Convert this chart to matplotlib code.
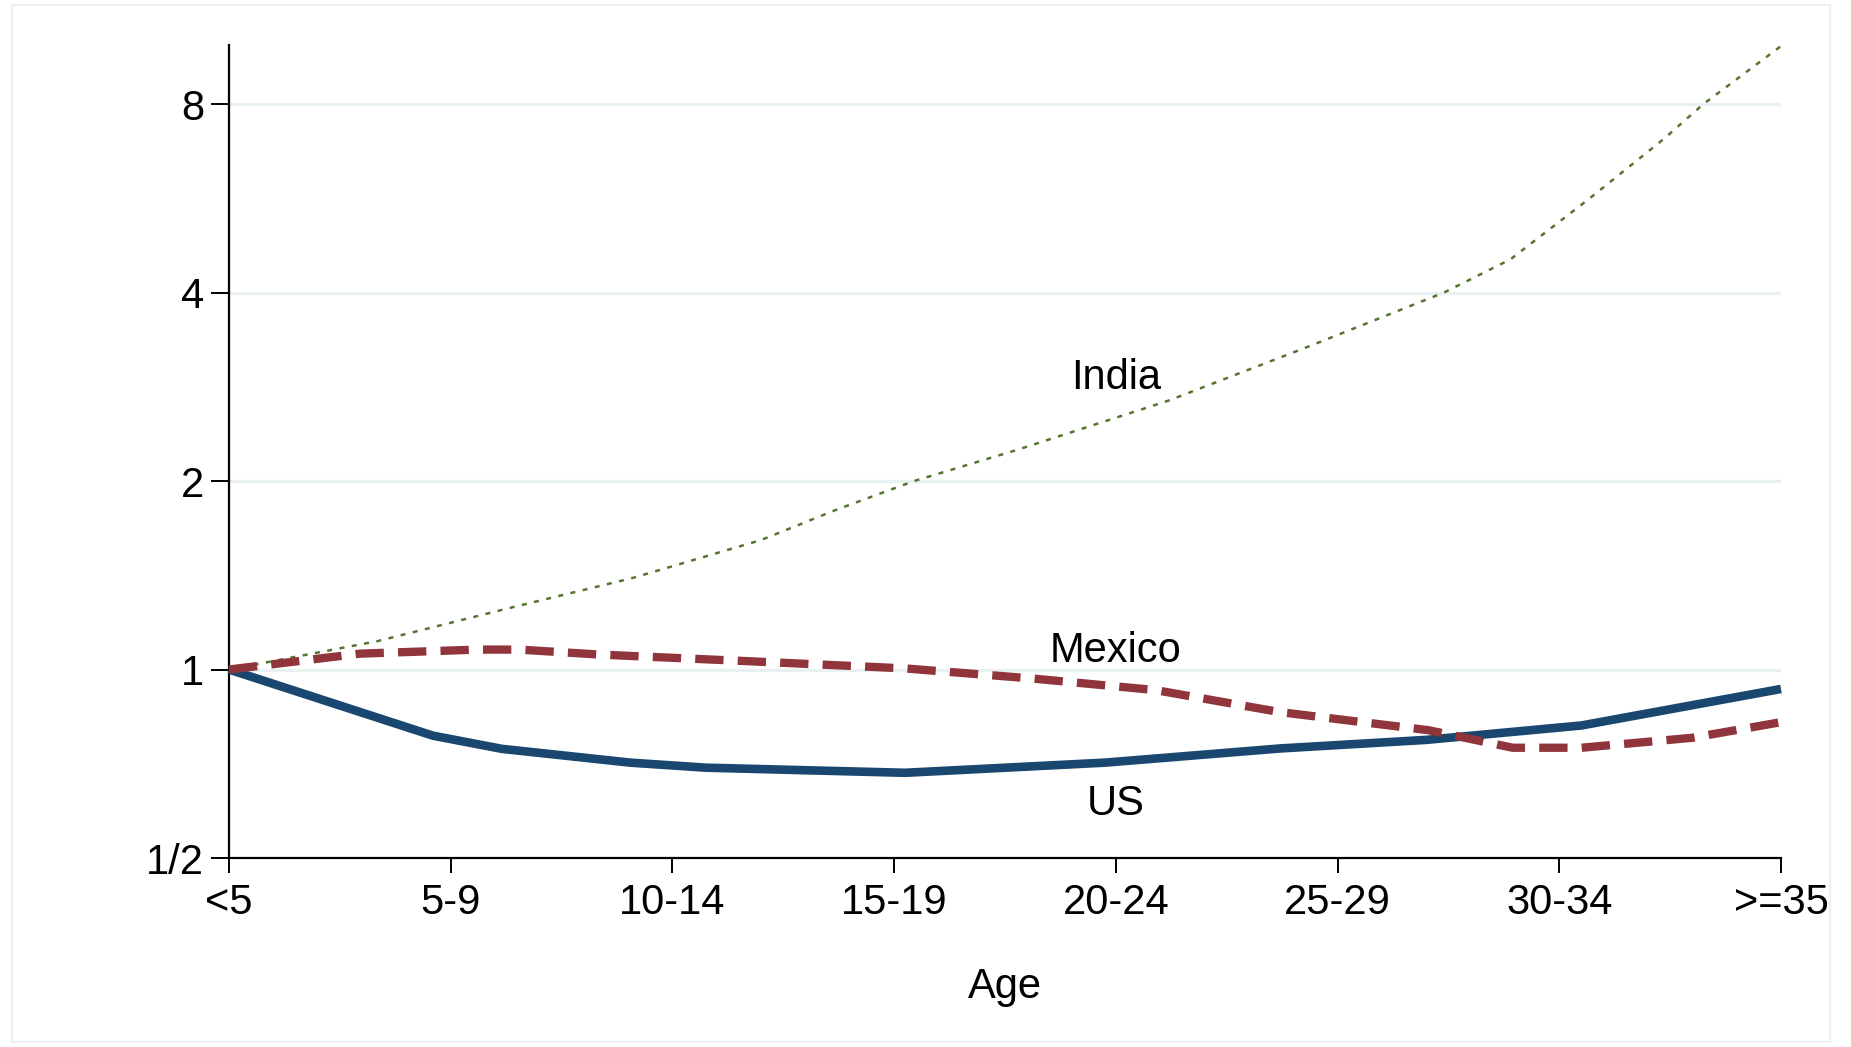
import matplotlib
matplotlib.use("Agg")
import matplotlib.pyplot as plt
from matplotlib.patches import Rectangle

# ---- data (x = position along the age-group axis, 0 = "<5", 7 = ">=35") ----
age_labels = ["<5", "5-9", "10-14", "15-19", "20-24", "25-29", "30-34", ">=35"]

us_x = [0, 0.92, 1.23, 1.81, 2.15, 3.05, 3.95, 4.74, 5.40, 6.10, 7.0]
us_y = [1.0, 0.784, 0.747, 0.710, 0.697, 0.684, 0.710, 0.748, 0.772, 0.814, 0.931]

mex_x = [0, 0.59, 1.12, 1.31, 1.66, 2.37, 3.05, 3.63, 4.18, 4.74, 5.41, 5.79, 6.10, 6.60, 7.0]
mex_y = [1.0, 1.06, 1.076, 1.076, 1.057, 1.03, 1.004, 0.967, 0.927, 0.855, 0.80, 0.75, 0.75, 0.778, 0.824]

ind_x = [0, 0.67, 1.25, 1.82, 2.40, 2.74, 3.09, 3.55, 4.24, 4.86, 5.48, 5.78, 6.13, 6.47, 6.65, 7.0]
ind_y = [1.0, 1.11, 1.25, 1.40, 1.61, 1.80, 2.0, 2.24, 2.69, 3.27, 4.0, 4.52, 5.63, 7.03, 8.0, 9.9]

y_ticks = [0.5, 1, 2, 4, 8]
y_ticklabels = ["1/2", "1", "2", "4", "8"]

labels = ["India", "Mexico", "US"]
label_x = [4.0, 4.0, 4.0]
label_y = [2.92, 1.07, 0.61]

# ---- styling ----
plt.rcParams["font.family"] = ["Liberation Sans", "DejaVu Sans"]
W, H, DPI = 1851, 1047, 100
FS = 30
fig = plt.figure(figsize=(W / DPI, H / DPI), dpi=DPI)
fig.patch.set_facecolor("white")

# light outer frame (graph region)
fig.patches.append(Rectangle((12 / W, 5 / H), (1830 - 12) / W, (1042 - 5) / H,
                             transform=fig.transFigure, fill=False,
                             edgecolor="#eaf1f3", linewidth=1.5))

left, right = 229 / W, 1781 / W
bottom, top = 1 - 858 / H, 1 - 45 / H
ax = fig.add_axes([left, bottom, right - left, top - bottom])

ax.set_yscale("log", base=2)
ax.set_xlim(0, 7)
ax.set_ylim(0.5, 9.94)

grid_color = "#e8f0f2"
for v in y_ticks[1:]:
    ax.axhline(v, color=grid_color, linewidth=2.4, zorder=0)

navy = "#1a476f"
maroon = "#90353b"
green = "#55752f"

ax.plot(ind_x, ind_y, color=green, linewidth=1.8, dashes=(2.0, 3.0),
        solid_capstyle="butt", dash_capstyle="butt", clip_on=False, zorder=2)
ax.plot(us_x, us_y, color=navy, linewidth=6.2, solid_capstyle="butt",
        solid_joinstyle="round", clip_on=False, zorder=3)
ax.plot(mex_x, mex_y, color=maroon, linewidth=6.0, dashes=(3.4, 1.7),
        dash_capstyle="butt", clip_on=False, zorder=4)

for t, lx, ly in zip(labels, label_x, label_y):
    ax.text(lx, ly, t, fontsize=FS, ha="center", va="center", color="black")

ax.set_yticks(y_ticks)
ax.set_yticklabels(y_ticklabels)
ax.yaxis.set_minor_locator(matplotlib.ticker.NullLocator())
ax.set_xticks(range(len(age_labels)))
ax.set_xticklabels(age_labels)

for s in ["top", "right"]:
    ax.spines[s].set_visible(False)
for s in ["left", "bottom"]:
    ax.spines[s].set_linewidth(1.6)
    ax.spines[s].set_color("black")

ax.tick_params(axis="y", length=13, width=1.4, pad=5, labelsize=FS)
ax.tick_params(axis="x", length=11, width=1.4, pad=7, labelsize=FS)
ax.set_xlabel("Age", fontsize=FS, labelpad=32)

fig.savefig("out.png", dpi=DPI, facecolor="white")
